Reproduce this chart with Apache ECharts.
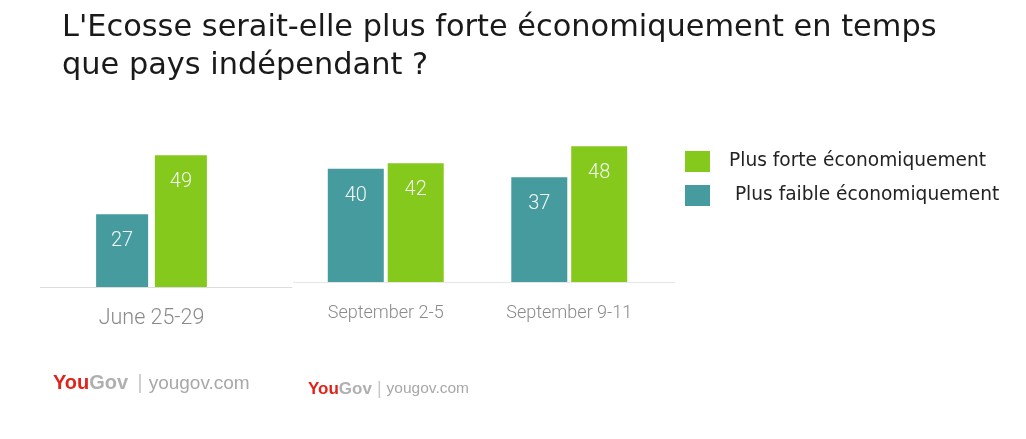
<!DOCTYPE html>
<html>
<head>
<meta charset="utf-8">
<script src="https://cdn.jsdelivr.net/npm/echarts@6/dist/echarts.min.js"></script>
<style>
  html, body { margin: 0; padding: 0; background: #ffffff; }
  #chart { width: 1026px; height: 439px; }
</style>
</head>
<body>
<div id="chart"></div>
<script>
// ---- data ----
const titleText = "L'Ecosse serait-elle plus forte économiquement en temps\nque pays indépendant ?";
const juneCategories = ['June 25-29'];
const septCategories = ['September 2-5', 'September 9-11'];
const strongerJune = [49];
const weakerJune = [27];
const strongerSept = [42, 48];
const weakerSept = [40, 37];
const nameStronger = 'Plus forte économiquement';
const nameWeaker = 'Plus faible économiquement';

const TEAL = '#459b9d';
const GREEN = '#84c91b';

const chart = echarts.init(document.getElementById('chart'), null, { renderer: 'canvas' });

const valueLabel = {
  show: true,
  position: 'insideTop',
  distance: 17,
  color: '#f4f7f4',
  fontFamily: 'Roboto',
  fontWeight: 300,
  fontSize: 20
};

chart.setOption({
  backgroundColor: '#ffffff',
  animation: false,
  title: {
    text: titleText,
    left: 57,
    top: 4,
    textStyle: {
      fontFamily: 'DejaVu Sans',
      fontWeight: 'normal',
      fontSize: 30.4,
      lineHeight: 38,
      color: '#1a1a1a'
    }
  },
  legend: {
    orient: 'vertical',
    left: 680,
    top: 146,
    itemWidth: 25,
    itemHeight: 21,
    itemGap: 13,
    icon: 'rect',
    data: [nameStronger, nameWeaker],
    formatter: function (n) { return n === nameWeaker ? ' ' + n : n; },
    textStyle: {
      fontFamily: 'DejaVu Sans',
      fontSize: 18.6,
      color: '#222222',
      padding: [0, 0, 0, 14]
    }
  },
  grid: [
    { left: 40, width: 223, top: 125.6, height: 161.4 },
    { left: 294, width: 367, top: 112.2, height: 169.8 }
  ],
  xAxis: [
    {
      gridIndex: 0, type: 'category', data: juneCategories,
      axisLine: { show: false }, axisTick: { show: false },
      axisLabel: { margin: 21, color: '#8a8a8a', fontFamily: 'Roboto', fontWeight: 300, fontSize: 21.5 }
    },
    {
      gridIndex: 1, type: 'category', data: septCategories,
      axisLine: { show: false }, axisTick: { show: false },
      axisLabel: { margin: 22, color: '#8a8a8a', fontFamily: 'Roboto', fontWeight: 300, fontSize: 18 }
    }
  ],
  yAxis: [
    { gridIndex: 0, type: 'value', min: 0, max: 60, show: false, splitLine: { show: false } },
    { gridIndex: 1, type: 'value', min: 0, max: 60, show: false, splitLine: { show: false } }
  ],
  series: [
    {
      name: nameWeaker, type: 'bar', xAxisIndex: 0, yAxisIndex: 0,
      data: weakerJune, barWidth: 52, barGap: '13%',
      itemStyle: { color: TEAL }, label: valueLabel
    },
    {
      name: nameStronger, type: 'bar', xAxisIndex: 0, yAxisIndex: 0,
      data: strongerJune, barWidth: 52, barGap: '13%',
      itemStyle: { color: GREEN }, label: valueLabel
    },
    {
      name: nameWeaker, type: 'bar', xAxisIndex: 1, yAxisIndex: 1,
      data: weakerSept, barWidth: 56, barGap: '7%',
      itemStyle: { color: TEAL }, label: valueLabel
    },
    {
      name: nameStronger, type: 'bar', xAxisIndex: 1, yAxisIndex: 1,
      data: strongerSept, barWidth: 56, barGap: '7%',
      itemStyle: { color: GREEN }, label: valueLabel
    }
  ],
  graphic: [
    { type: 'line', shape: { x1: 40, y1: 287.5, x2: 292, y2: 287.5 }, style: { stroke: '#dcdcdc', lineWidth: 1 }, silent: true },
    { type: 'line', shape: { x1: 293, y1: 282.5, x2: 675, y2: 282.5 }, style: { stroke: '#e6e6e6', lineWidth: 1 }, silent: true },
    {
      type: 'text', left: 53, top: 373,
      style: {
        text: '{r|You}{g|Gov}{s||}{u|yougov.com}',
        rich: {
          r: { fill: '#e2231a', fontFamily: 'Liberation Sans', fontWeight: 'bold', fontSize: 20, letterSpacing: -1 },
          g: { fill: '#b0b0b0', fontFamily: 'Liberation Sans', fontWeight: 'bold', fontSize: 20, letterSpacing: -1 },
          s: { fill: '#c8c8c8', fontFamily: 'Liberation Sans', fontSize: 21, padding: [0, 6, 0, 9] },
          u: { fill: '#a8a8a8', fontFamily: 'Liberation Sans', fontSize: 19 }
        }
      }
    },
    {
      type: 'text', left: 308, top: 380,
      style: {
        text: '{r|You}{g|Gov}{s||}{u|yougov.com}',
        rich: {
          r: { fill: '#e2231a', fontFamily: 'Liberation Sans', fontWeight: 'bold', fontSize: 17, letterSpacing: -1 },
          g: { fill: '#b0b0b0', fontFamily: 'Liberation Sans', fontWeight: 'bold', fontSize: 17, letterSpacing: -1 },
          s: { fill: '#c8c8c8', fontFamily: 'Liberation Sans', fontSize: 18, padding: [0, 5, 0, 5] },
          u: { fill: '#a8a8a8', fontFamily: 'Liberation Sans', fontSize: 15.5 }
        }
      }
    }
  ]
});
</script>
</body>
</html>
